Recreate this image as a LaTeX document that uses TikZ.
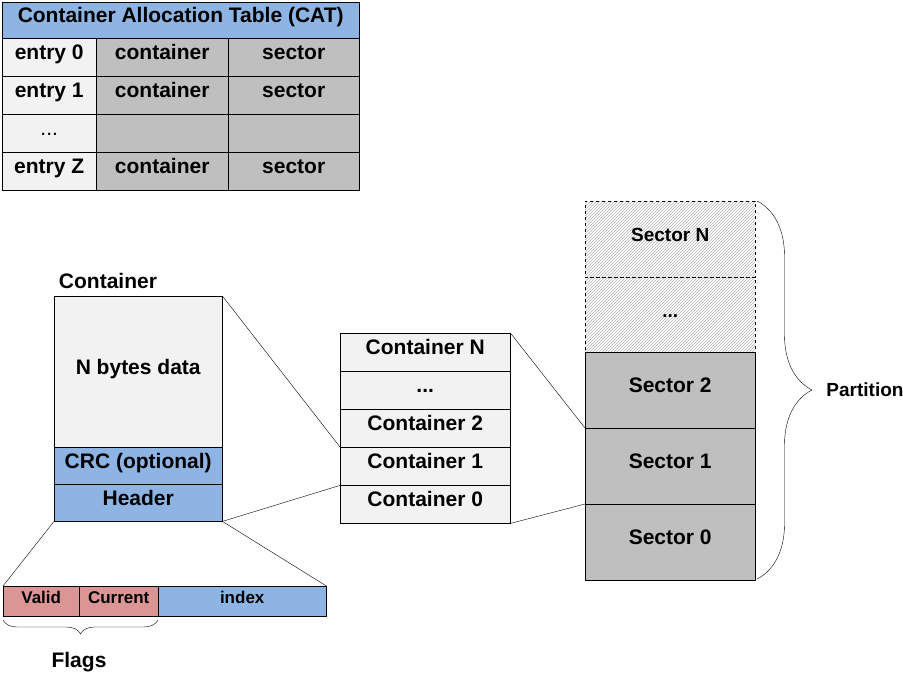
\documentclass[tikz,border=0pt]{standalone}
\usepackage{fontspec}
\setmainfont{Liberation Sans}
\usetikzlibrary{patterns,decorations.pathreplacing}
\definecolor{blu}{HTML}{8EB4E3}
\definecolor{lg}{HTML}{F2F2F2}
\definecolor{dg}{HTML}{BFBFBF}
\definecolor{rd}{HTML}{D99694}
\begin{document}
\begin{tikzpicture}[x=1pt,y=-1pt,
 cell/.style={draw,minimum width=#1,anchor=north west,inner sep=0pt,text height=0.72em,text depth=0.18em,font=\bfseries\fontsize{21}{24}\selectfont},
 lab/.style={font=\bfseries\fontsize{21}{24}\selectfont},
 small/.style={font=\bfseries\fontsize{17}{20}\selectfont}]
\useasboundingbox (0,0) rectangle (903,675);
% CAT
\node[cell=357pt,minimum height=36pt,fill=blu] (cat) at (2,2) {Container Allocation Table (CAT)};
\foreach \i/\a/\b/\c in {0/entry 0/container/sector,1/entry 1/container/sector,2/{\mdseries ...}/{}/{},3/entry Z/container/sector}{
 \node[cell=94pt,minimum height=38pt,fill=lg] (e\i) at (2,38+38*\i) {\a};
 \node[cell=132pt,minimum height=38pt,fill=dg] (c\i) at (96,38+38*\i) {\b};
 \node[cell=131pt,minimum height=38pt,fill=dg] (s\i) at (228,38+38*\i) {\c};
}
% Container
\node[lab] (clab) at (108,281) {Container};
\node[cell=168pt,minimum height=151pt,fill=lg] (data) at (54,296) {N bytes data};
\node[cell=168pt,minimum height=37pt,fill=blu] (crc) at (54,447) {CRC (optional)};
\node[cell=168pt,minimum height=37pt,fill=blu] (hdr) at (54,484) {Header};
% flags
\node[cell=76pt,minimum height=30pt,fill=rd,small] (valid) at (3,586) {Valid};
\node[cell=79pt,minimum height=30pt,fill=rd,small] (cur) at (79,586) {Current};
\node[cell=168pt,minimum height=30pt,fill=blu,small] (idx) at (158,586) {index};
\draw (hdr.south west) -- (valid.north west);
\draw (hdr.south east) -- (idx.north east);
\draw[decorate,decoration={brace,amplitude=14pt,mirror}] (3,620) -- (158,620);
\node[lab] (flags) at (79,662) {Flags};
% middle
\foreach \i/\t in {4/Container N,3/{...},2/Container 2,1/Container 1,0/Container 0}{
 \node[cell=170pt,minimum height=38pt,fill=lg] (m\i) at (340,485-38*\i) {\t};
}
\draw (data.north east) -- (m1.north west);
\draw (hdr.south east) -- (m1.south west);
% sectors
\foreach \i/\t in {4/Sector N,3/{...}}{
 \node[cell=170pt,minimum height=76pt,draw=none,pattern=north east lines,pattern color=gray!60] (p\i) at (585,505-76*\i) {};
 \node[cell=170pt,minimum height=76pt,draw,dashed,font=\bfseries\fontsize{19}{22}\selectfont] (s\i x) at (585,505-76*\i) {\t};
}
\foreach \i/\t in {2/Sector 2,1/Sector 1,0/Sector 0}{
 \node[cell=170pt,minimum height=76pt,fill=dg] (s\i x) at (585,504-76*\i) {\t};
}
\draw (m4.north east) -- (s1x.north west);
\draw (m0.south east) -- (s0x.north west);
\draw[decorate,decoration={brace,amplitude=55pt,aspect=0.5}] (757,201) -- (757,579);
\node[font=\bfseries\fontsize{19}{22}\selectfont] (part) at (865,390) {Partition};
\end{tikzpicture}
\end{document}
